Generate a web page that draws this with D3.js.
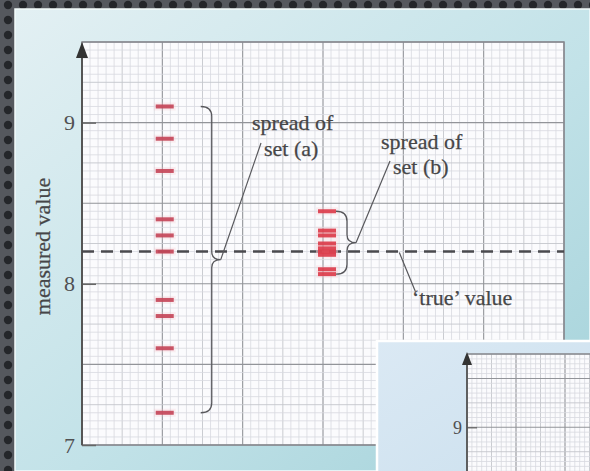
<!DOCTYPE html>
<html lang="en">
<head>
  <meta charset="UTF-8">
  <title>Spread of measured values</title>
  <script src="https://d3js.org/d3.v7.min.js"></script>
  <style>
    body { margin: 0; background: #45484d; }
    svg { display: block; }
    .lbl { font-family: "Liberation Serif", "DejaVu Serif", serif; font-size: 22px; fill: #464648; stroke: #464648; stroke-width: 0.25px; }
    .tick text { font-family: "Liberation Serif", serif; font-size: 22px; fill: #505052; }
  </style>
</head>
<body>
  <div id="chart"></div>

  <script>
    // Data
    const yTicks = [7, 8, 9];
    const setA = [9.1, 8.9, 8.7, 8.4, 8.3, 8.2, 7.9, 7.8, 7.6, 7.2];
    const setB = [8.45, 8.33, 8.30, 8.25, 8.22, 8.20, 8.18, 8.09, 8.06];
    const setX = [1.03, 3.05];          // column of set (a), set (b)
    const trueValue = [8.2];
    const insetTicks = [9];
    const yLabel = 'measured value';

    const width = 590, height = 471;
    const plot = { left: 82, right: 564, top: 42, bottom: 445 };

    const svg = d3.select('#chart').append('svg')
      .attr('width', width)
      .attr('height', height);

    const defs = svg.append('defs');

    // photo frame: dark dotted surface
    const pat = defs.append('pattern')
      .attr('id', 'dots').attr('width', 15).attr('height', 15)
      .attr('patternUnits', 'userSpaceOnUse');
    pat.append('rect').attr('width', 15).attr('height', 15).attr('fill', '#55585e');
    pat.append('circle').attr('cx', 8).attr('cy', 5).attr('r', 4.2).attr('fill', '#24262a');

    const panelGrad = defs.append('linearGradient')
      .attr('id', 'panel').attr('x1', 0).attr('y1', 0).attr('x2', 1).attr('y2', 1);
    panelGrad.append('stop').attr('offset', '0%').attr('stop-color', '#e3f0f3');
    panelGrad.append('stop').attr('offset', '55%').attr('stop-color', '#c2e2e8');
    panelGrad.append('stop').attr('offset', '100%').attr('stop-color', '#a2d1d9');

    const insetGrad = defs.append('linearGradient')
      .attr('id', 'inset').attr('x1', 0).attr('y1', 0).attr('x2', 1).attr('y2', 1);
    insetGrad.append('stop').attr('offset', '0%').attr('stop-color', '#dbe9f4');
    insetGrad.append('stop').attr('offset', '100%').attr('stop-color', '#cbe0ee');

    defs.append('filter').attr('id', 'soft')
      .append('feGaussianBlur').attr('stdDeviation', 0.6);

    svg.append('rect').attr('width', width).attr('height', height).attr('fill', 'url(#dots)');
    svg.append('rect')
      .attr('x', 15).attr('y', 9).attr('width', width - 15).attr('height', height - 9)
      .attr('fill', 'url(#panel)')
      .attr('stroke', '#f4fbfc').attr('stroke-width', 1.5);

    // Scales
    const x = d3.scaleLinear().domain([0, 6]).range([plot.left, plot.right]);
    const y = d3.scaleLinear().domain([7, 9.5]).range([plot.bottom, plot.top]);

    // graph paper
    function graphPaper(g, xs, ys, x0, x1, y0, y1, xStep, yStep, xMax, yMin, yMax) {
      g.append('rect')
        .attr('x', x0).attr('y', y0).attr('width', x1 - x0).attr('height', y1 - y0)
        .attr('fill', '#fbfbfd');
      const style = i => i % 10 === 0 ? ['#929499', 1.1] : i % 5 === 0 ? ['#c4c6cc', 0.9] : ['#d8d9df', 0.8];
      d3.range(0, Math.round(xMax / xStep) + 1).forEach(i => {
        const [c, w] = style(i);
        g.append('line')
          .attr('x1', xs(i * xStep)).attr('x2', xs(i * xStep))
          .attr('y1', y0).attr('y2', y1)
          .attr('stroke', c).attr('stroke-width', w);
      });
      d3.range(0, Math.round((yMax - yMin) / yStep) + 1).forEach(i => {
        const [c, w] = style(i);
        g.append('line')
          .attr('x1', x0).attr('x2', x1)
          .attr('y1', ys(yMin + i * yStep)).attr('y2', ys(yMin + i * yStep))
          .attr('stroke', c).attr('stroke-width', w);
      });
    }

    const main = svg.append('g');
    graphPaper(main, x, y, plot.left, plot.right, plot.top, plot.bottom, 0.1, 0.05, 6, 7, 9.5);
    main.append('rect')
      .attr('x', plot.left).attr('y', plot.top)
      .attr('width', plot.right - plot.left).attr('height', plot.bottom - plot.top)
      .attr('fill', 'none').attr('stroke', '#86888e').attr('stroke-width', 1.5);

    // y axis with ticks pointing into the grid
    const yAxis = main.append('g')
      .attr('transform', `translate(${plot.left},0)`)
      .call(d3.axisLeft(y).tickValues(yTicks).tickSize(-14).tickPadding(7).tickFormat(d3.format('d')));
    yAxis.select('.domain').remove();
    yAxis.selectAll('.tick line').attr('stroke', '#666').attr('stroke-width', 1.5);

    main.append('line')
      .attr('x1', plot.left).attr('x2', plot.left)
      .attr('y1', plot.bottom).attr('y2', plot.top + 8)
      .attr('stroke', '#555').attr('stroke-width', 2);
    main.append('path')
      .attr('d', `M${plot.left},${plot.top} l-6,16 h12 z`)
      .attr('fill', '#333');

    // y axis label
    main.append('text')
      .attr('class', 'lbl')
      .attr('transform', 'rotate(-90)')
      .attr('x', -(y(7) + y(9.5)) / 2 - 3)
      .attr('y', 50)
      .attr('text-anchor', 'middle')
      .text(yLabel);

    // "true" value dashed line
    main.selectAll('.true-line')
      .data(trueValue).join('line')
      .attr('x1', plot.left).attr('x2', plot.right)
      .attr('y1', d => y(d)).attr('y2', d => y(d))
      .attr('stroke', '#4a4a4e').attr('stroke-width', 2.6)
      .attr('stroke-dasharray', '12,7');

    // measurement marks
    const sets = [setA, setB];
    const markColour = ['#c44457', '#dc3a48'];
    sets.forEach((vals, k) => {
      const g = main.append('g').attr('filter', 'url(#soft)');
      g.selectAll('rect.halo').data(vals).join('rect')
        .attr('x', x(setX[k]) - 11).attr('y', d => y(d) - 4)
        .attr('width', 22).attr('height', 8)
        .attr('fill', '#f4c4ca').attr('opacity', 0.25);
      g.selectAll('rect.mark').data(vals).join('rect')
        .attr('x', x(setX[k]) - 9).attr('y', d => y(d) - 2)
        .attr('width', 18).attr('height', 4)
        .attr('fill', markColour[k]).attr('opacity', 0.9);
    });

    // braces showing the spread of each set
    const braceOffset = [47, 20];
    function brace(xb, y0, y1) {
      const m = (y0 + y1) / 2;
      return `M${xb - 11},${y0} Q${xb},${y0} ${xb},${y0 + 10} L${xb},${m - 8} ` +
             `Q${xb},${m} ${xb + 9},${m} Q${xb},${m} ${xb},${m + 8} ` +
             `L${xb},${y1 - 10} Q${xb},${y1} ${xb - 11},${y1}`;
    }
    const braceTips = sets.map((vals, k) => {
      const xb = x(setX[k]) + braceOffset[k];
      const y0 = y(d3.max(vals)), y1 = y(d3.min(vals));
      main.append('path')
        .attr('d', brace(xb, y0, y1))
        .attr('fill', 'none').attr('stroke', '#58585c').attr('stroke-width', 1.3);
      return [xb + 9, (y0 + y1) / 2];
    });

    // annotations
    const leader = (p, q) => main.append('line')
      .attr('x1', p[0]).attr('y1', p[1]).attr('x2', q[0]).attr('y2', q[1])
      .attr('stroke', '#58585c').attr('stroke-width', 1.2);

    leader(braceTips[0], [261, 143]);
    main.append('text').attr('class', 'lbl').attr('x', 252).attr('y', 130).text('spread of');
    main.append('text').attr('class', 'lbl').attr('x', 264).attr('y', 156).text('set (a)');

    leader(braceTips[1], [390, 161]);
    main.append('text').attr('class', 'lbl').attr('x', 381).attr('y', 149).text('spread of');
    main.append('text').attr('class', 'lbl').attr('x', 393).attr('y', 174).text('set (b)');

    leader([x(3.95), y(trueValue[0]) + 1], [x(4.15), y(trueValue[0]) + 40]);
    main.append('text').attr('class', 'lbl').attr('x', 412).attr('y', 305).text('\u2018true\u2019 value');

    // inset: start of the next figure
    const inset = { left: 377, top: 341, px: 467, py: 354 };
    svg.append('rect')
      .attr('x', inset.left).attr('y', inset.top)
      .attr('width', width - inset.left + 5).attr('height', height - inset.top + 5)
      .attr('fill', 'url(#inset)').attr('stroke', '#ffffff').attr('stroke-width', 2.5);

    const ix = d3.scaleLinear().domain([0, 3]).range([inset.px, inset.px + 294]);
    const iy = d3.scaleLinear().domain([8, 9.75]).range([525, inset.py]);
    const ig = svg.append('g');
    graphPaper(ig, ix, iy, inset.px, width, inset.py, height, 0.05, 0.05, 3, 8.5, 9.75);
    ig.append('line')
      .attr('x1', inset.px).attr('x2', width).attr('y1', inset.py).attr('y2', inset.py)
      .attr('stroke', '#86888e').attr('stroke-width', 1.5);
    const iAxis = ig.append('g')
      .attr('transform', `translate(${inset.px},0)`)
      .call(d3.axisLeft(iy).tickValues(insetTicks).tickSize(-10).tickPadding(5).tickFormat(d3.format('d')));
    iAxis.select('.domain').remove();
    iAxis.selectAll('.tick line').attr('stroke', '#666').attr('stroke-width', 1.3);
    iAxis.selectAll('.tick text').style('font-size', '18px').attr('fill', '#5a6270');
    ig.append('line')
      .attr('x1', inset.px).attr('x2', inset.px)
      .attr('y1', height).attr('y2', inset.py + 6)
      .attr('stroke', '#555').attr('stroke-width', 1.8);
    ig.append('path')
      .attr('d', `M${inset.px},${inset.py - 2} l-5,13 h10 z`)
      .attr('fill', '#333');
  </script>
</body>
</html>
